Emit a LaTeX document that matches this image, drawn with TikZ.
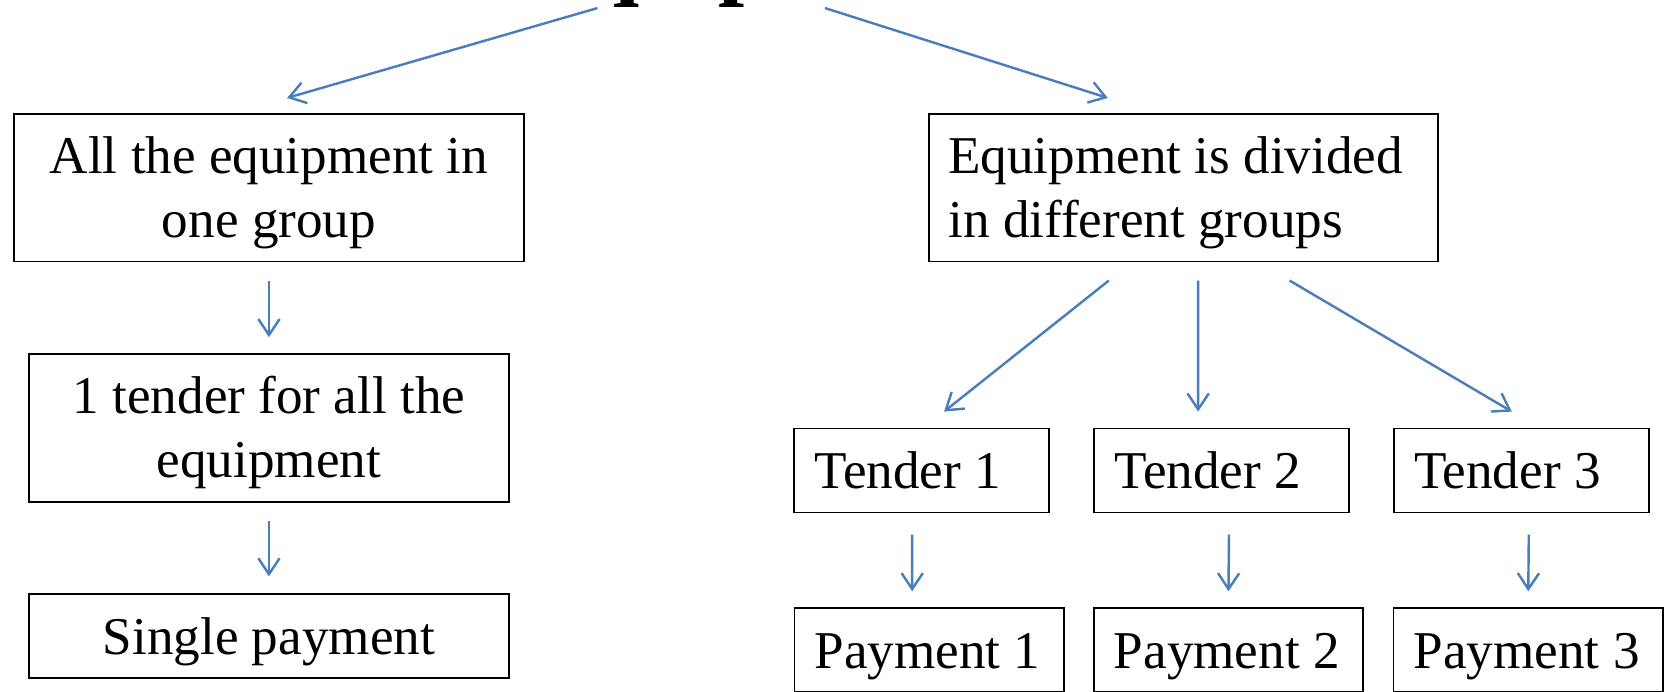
\documentclass[tikz,border=0pt]{standalone}
\usepackage{fontspec}
\setmainfont{Liberation Serif}
\usetikzlibrary{arrows.meta}
\definecolor{arrowblue}{RGB}{74,126,187}
\newcommand{\boxstrut}{\rule[-0.216em]{0pt}{1.107em}}

\begin{document}
\begin{tikzpicture}[x=0.02cm,y=-0.02cm,
    box/.style={draw=black,line width=1pt,inner sep=0pt,minimum height=2.78cm,
      font=\fontsize{28.45pt}{34.14pt}\selectfont,
      execute at begin node=\boxstrut,execute at end node=\boxstrut},
    midbox/.style={box,align=flush center,text width=#1},
    leftbox/.style={box,align=flush left},
    tenderbox/.style={leftbox,minimum height=1.58cm,inner xsep=0.38cm,text width=4.04cm},
    paybox/.style={tenderbox,text width=4.31cm},
    titletext/.style={inner sep=0pt,font=\bfseries\fontsize{50.3pt}{50.3pt}\selectfont},
    arr/.style={draw=arrowblue,line width=1.3pt,-{Straight Barb[length=0.3cm,width=0.4cm]}}]
\useasboundingbox (0,0) rectangle (1568,650);
\clip (0,0) rectangle (1568,650);

\node[titletext,anchor=base] (title) at (705,-11.6) {Equipment};

\node[midbox=9.6cm] (allin) at (253,176.5) {All the equipment in\\one group};
\node[midbox=9.04cm] (onetender) at (253,402.5) {1 tender for all the\\equipment};
\node[midbox=9.04cm,minimum height=1.58cm] (single) at (253,598.5) {Single payment};
\node[leftbox,text width=8.86cm,inner xsep=0.36cm] (divided) at (1113.5,176.5) {Equipment is divided\\in different groups};

\foreach \i/\x in {1/867,2/1149,3/1431}
  \node[tenderbox] (t\i) at (\x,442.5) {Tender \i};
\foreach \i/\x in {1/874,2/1155.5,3/1437.5}
  \node[paybox] (p\i) at (\x,611.5) {Payment \i};

\draw[arr] ([xshift=-2.86cm]title.south) -- ([xshift=0.34cm,yshift=0.28cm]allin.north);
\draw[arr] ([xshift=1.42cm]title.south) -- ([xshift=-1.43cm,yshift=0.28cm]divided.north);
\draw[arr,shorten <=0.34cm,shorten >=0.3cm] (allin) -- (onetender);
\draw[arr,shorten <=0.34cm,shorten >=0.32cm] (onetender) -- (single);

\draw[arr] ([xshift=-1.41cm,yshift=-0.34cm]divided.south) -- ([xshift=0.42cm,yshift=0.3cm]t1.north);
\draw[arr] ([xshift=0.27cm,yshift=-0.34cm]divided.south) -- ([xshift=-0.44cm,yshift=0.3cm]t2.north);
\draw[arr] ([xshift=1.99cm,yshift=-0.34cm]divided.south) -- ([xshift=-0.18cm,yshift=0.3cm]t3.north);

\draw[arr] ([xshift=-0.18cm,yshift=-0.4cm]t1.south) -- ([xshift=-0.32cm,yshift=0.3cm]p1.north);
\draw[arr] ([xshift=0.14cm,yshift=-0.4cm]t2.south) -- ([yshift=0.3cm]p2.north);
\draw[arr] ([xshift=0.14cm,yshift=-0.4cm]t3.south) -- ([yshift=0.3cm]p3.north);
\end{tikzpicture}
\end{document}
